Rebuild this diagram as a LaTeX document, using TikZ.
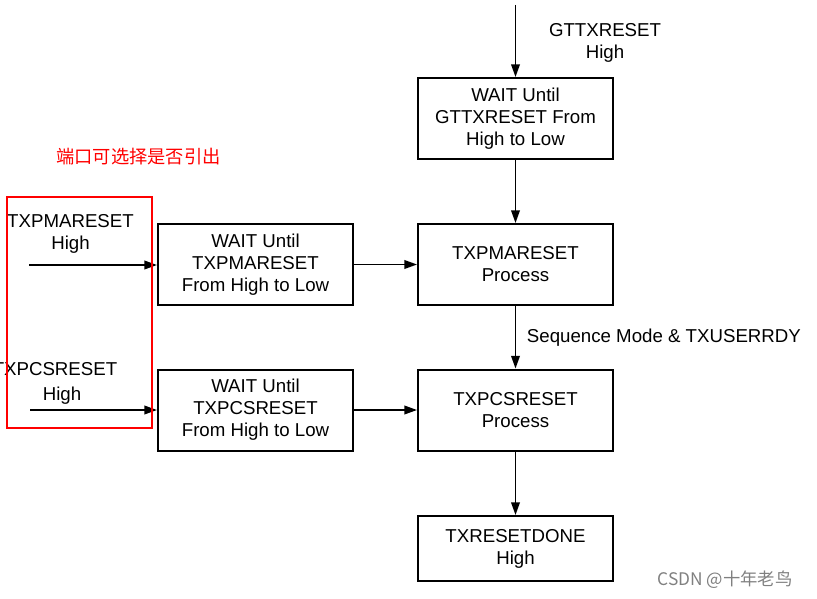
\documentclass[tikz,border=0pt]{standalone}
\usepackage{fontspec}
\setmainfont{Liberation Sans}
\newfontfamily\cjk{Noto Sans CJK SC}
\usetikzlibrary{arrows.meta}
\begin{document}
\begin{tikzpicture}[x=0.75pt,y=-0.75pt,
  box/.style={draw,line width=1.5pt,minimum width=146.25pt,minimum height=60.75pt,align=center,inner sep=0pt,font=\fontsize{14}{16.5}\selectfont},
  lbl/.style={align=center,inner sep=0pt,font=\fontsize{14}{16.5}\selectfont},
  conn/.style={line width=1.2pt,-{Triangle[length=9.5pt,width=6.5pt]}}]
\useasboundingbox (0,0) rectangle (817,599);
\node[box] (w1) at (515.5,118.5) {WAIT Until\\GTTXRESET From\\High to Low};
\node[box] (pma) at (515.5,264.5) {TXPMARESET\\Process};
\node[box] (pcs) at (515.5,410) {TXPCSRESET\\Process};
\node[box,minimum height=48.75pt] (done) at (515.5,548.5) {TXRESETDONE\\High};
\node[box] (wa) at (255.5,264.5) {WAIT Until\\TXPMARESET\\From High to Low};
\node[box] (wb) at (255.5,410) {WAIT Until\\TXPCSRESET\\From High to Low};
\coordinate (top) at (515.5,5);
\coordinate (ina) at (29,265);
\coordinate (inb) at (30,410);
\node[lbl] (gl) at (605,43) {GTTXRESET\\High};
\node[lbl] (al) at (70.5,234) {TXPMARESET\\High};
\node[lbl,anchor=east] (bl1) at (117.5,369) {TXPCSRESET};
\node[lbl] (bl2) at (62,396) {High};
\draw[conn] (top) -- (w1);
\draw[conn] (w1) -- (pma);
\draw[conn] (pma) -- node[lbl,anchor=west,xshift=8pt] (seq) {Sequence Mode \& TXUSERRDY} (pcs);
\draw[conn] (pcs) -- (done);
\draw[conn] (wa) -- (pma);
\draw[conn] (wb) -- (pcs);
\draw[conn] (ina) -- (wa.west |- ina);
\draw[conn] (inb) -- (wb.west |- inb);
\node[draw=red,line width=1.1pt,minimum width=108.75pt,minimum height=173.25pt,inner sep=0pt] (redbox) at (79.5,312.5) {};
\node[text=red,inner sep=0pt,font=\cjk\fontsize{13.7}{16}\selectfont] (cn) at (138.5,157) {端口可选择是否引出};
\node[text=gray,inner sep=0pt,font=\cjk\fontsize{13}{15}\selectfont] (wm) at (725,580) {CSDN @十年老鸟};
\end{tikzpicture}
\end{document}
